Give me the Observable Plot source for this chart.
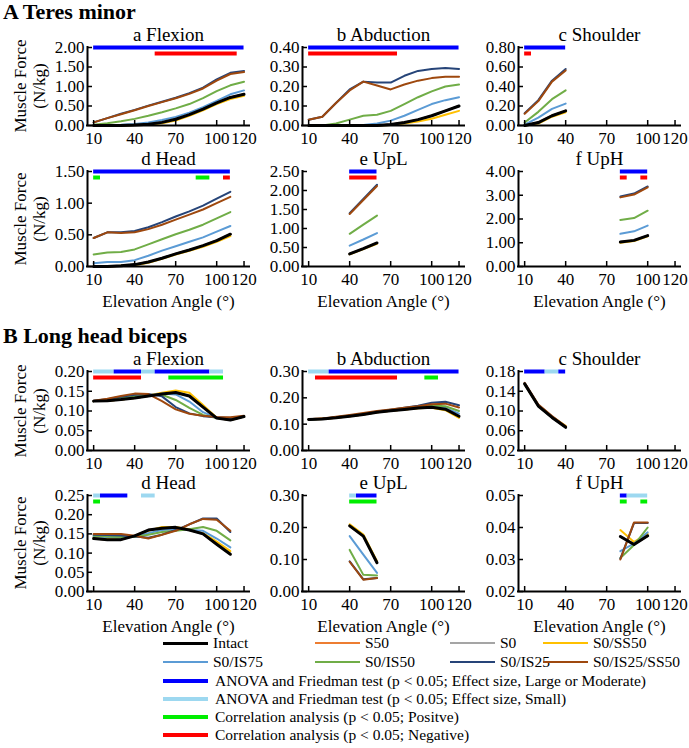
<!DOCTYPE html>
<html>
<head>
<meta charset="utf-8">
<script src="https://cdn.jsdelivr.net/npm/d3@7"></script>
<script src="https://cdn.jsdelivr.net/npm/@observablehq/plot@0.6"></script>
<style>
  body { margin: 0; background: #fff; }
  #fig { position: relative; width: 689px; height: 748px; font-family: "Liberation Serif", serif; color: #000; overflow: hidden; }
  .abs { position: absolute; white-space: nowrap; line-height: 1; }
  .sect { font-weight: bold; font-size: 22px; }
  .ylab { font-size: 17px; text-align: center; line-height: 19px; transform: translate(-50%, -50%) rotate(-90deg); }
  .leg { font-size: 15.5px; transform: translateY(-50%); }
  .legline { position: absolute; }
</style>
</head>
<body>
<div id="fig"></div>
<script>
// Loading scenarios and their line colours
const seriesNames = ["Intact", "S50", "S0", "S0/SS50", "S0/IS75", "S0/IS50", "S0/IS25", "S0/IS25/SS50"];
const seriesColors = ["#000000", "#ED7D31", "#A5A5A5", "#FFC000", "#5B9BD5", "#70AD47", "#264478", "#9E480E"];

// Significance bar kinds
const sigKinds = ["large", "small", "pos", "neg"];
const sigColors = ["#0000FF", "#9DD8F0", "#00EE00", "#FF0000"];
const sigLabels = [
  "ANOVA and Friedman test (p < 0.05; Effect size, Large or Moderate)",
  "ANOVA and Friedman test (p < 0.05; Effect size, Small)",
  "Correlation analysis (p < 0.05; Positve)",
  "Correlation analysis (p < 0.05; Negative)"
];

// Elevation angles (deg) per motion
const angFlexion = [10, 20, 30, 40, 50, 60, 70, 80, 90, 100, 110, 120];
const angAbduction = [10, 20, 30, 40, 50, 60, 70, 80, 90, 100, 110, 120];
const angShoulder = [10, 20, 30, 40];
const angHead = [10, 20, 30, 40, 50, 60, 70, 80, 90, 100, 110];
const angUpL = [40, 50, 60];
const angUpH = [80, 90, 100];
const xTicks = [10, 40, 70, 100, 120];

// A Teres minor: muscle force (N/kg), rows in seriesNames order
const tmFlexion = [
  [0.00, 0.00, 0.00, 0.01, 0.03, 0.08, 0.16, 0.28, 0.42, 0.58, 0.72, 0.80],
  [0.00, 0.00, 0.00, 0.01, 0.03, 0.08, 0.16, 0.28, 0.42, 0.58, 0.72, 0.80],
  [0.00, 0.00, 0.00, 0.01, 0.03, 0.08, 0.16, 0.28, 0.42, 0.58, 0.72, 0.80],
  [0.00, 0.00, 0.00, 0.01, 0.02, 0.06, 0.13, 0.25, 0.39, 0.55, 0.68, 0.76],
  [0.00, 0.01, 0.02, 0.04, 0.08, 0.14, 0.22, 0.33, 0.47, 0.63, 0.80, 0.90],
  [0.02, 0.06, 0.11, 0.17, 0.25, 0.34, 0.44, 0.55, 0.70, 0.88, 1.03, 1.12],
  [0.08, 0.19, 0.30, 0.40, 0.51, 0.61, 0.71, 0.83, 0.97, 1.18, 1.35, 1.40],
  [0.08, 0.19, 0.29, 0.39, 0.50, 0.60, 0.70, 0.81, 0.95, 1.15, 1.32, 1.37]
];
const tmAbduction = [
  [0.000, 0.000, 0.000, 0.000, 0.000, 0.000, 0.005, 0.015, 0.030, 0.050, 0.075, 0.100],
  [0.000, 0.000, 0.000, 0.000, 0.000, 0.000, 0.005, 0.015, 0.030, 0.050, 0.075, 0.100],
  [0.000, 0.000, 0.000, 0.000, 0.000, 0.000, 0.005, 0.015, 0.030, 0.050, 0.075, 0.100],
  [0.000, 0.000, 0.000, 0.000, 0.000, 0.000, 0.003, 0.010, 0.020, 0.035, 0.055, 0.075],
  [0.000, 0.000, 0.000, 0.000, 0.002, 0.010, 0.025, 0.050, 0.080, 0.110, 0.130, 0.145],
  [0.000, 0.000, 0.010, 0.030, 0.050, 0.055, 0.075, 0.110, 0.145, 0.175, 0.200, 0.210],
  [0.030, 0.045, 0.115, 0.185, 0.225, 0.220, 0.220, 0.255, 0.280, 0.290, 0.295, 0.290],
  [0.030, 0.045, 0.115, 0.180, 0.225, 0.205, 0.185, 0.210, 0.230, 0.243, 0.250, 0.250]
];
const tmShoulder = [
  [0.00, 0.03, 0.10, 0.15],
  [0.00, 0.03, 0.10, 0.15],
  [0.00, 0.03, 0.10, 0.15],
  [0.00, 0.02, 0.09, 0.135],
  [0.01, 0.08, 0.17, 0.225],
  [0.03, 0.14, 0.27, 0.36],
  [0.125, 0.26, 0.46, 0.58],
  [0.12, 0.25, 0.45, 0.565]
];
const tmHead = [
  [0.00, 0.00, 0.01, 0.03, 0.07, 0.13, 0.20, 0.26, 0.33, 0.41, 0.51],
  [0.00, 0.00, 0.01, 0.03, 0.07, 0.13, 0.20, 0.26, 0.33, 0.41, 0.51],
  [0.00, 0.00, 0.01, 0.03, 0.07, 0.13, 0.20, 0.26, 0.33, 0.41, 0.51],
  [0.00, 0.00, 0.01, 0.02, 0.06, 0.12, 0.19, 0.25, 0.31, 0.39, 0.48],
  [0.05, 0.07, 0.07, 0.10, 0.17, 0.25, 0.32, 0.39, 0.46, 0.55, 0.64],
  [0.19, 0.22, 0.23, 0.27, 0.35, 0.43, 0.51, 0.58, 0.66, 0.76, 0.86],
  [0.45, 0.54, 0.54, 0.56, 0.62, 0.70, 0.79, 0.87, 0.96, 1.07, 1.18],
  [0.45, 0.54, 0.53, 0.54, 0.59, 0.66, 0.74, 0.82, 0.90, 1.00, 1.10]
];
const tmUpL = [
  [0.33, 0.47, 0.62],
  [0.33, 0.47, 0.62],
  [0.33, 0.47, 0.62],
  [0.32, 0.46, 0.60],
  [0.55, 0.71, 0.88],
  [0.86, 1.10, 1.34],
  [1.40, 1.78, 2.15],
  [1.38, 1.75, 2.12]
];
const tmUpH = [
  [1.03, 1.10, 1.30],
  [1.03, 1.10, 1.30],
  [1.03, 1.10, 1.30],
  [1.00, 1.07, 1.27],
  [1.38, 1.48, 1.72],
  [1.96, 2.04, 2.35],
  [2.95, 3.07, 3.37],
  [2.91, 3.03, 3.33]
];

// B Long head biceps: muscle force (N/kg)
const lhFlexion = [
  [0.125, 0.126, 0.129, 0.133, 0.138, 0.143, 0.147, 0.138, 0.110, 0.082, 0.077, 0.086],
  [0.125, 0.126, 0.129, 0.133, 0.138, 0.143, 0.147, 0.138, 0.110, 0.082, 0.077, 0.086],
  [0.125, 0.126, 0.129, 0.133, 0.138, 0.143, 0.147, 0.138, 0.110, 0.082, 0.077, 0.086],
  [0.125, 0.126, 0.129, 0.133, 0.139, 0.146, 0.152, 0.146, 0.115, 0.083, 0.077, 0.086],
  [0.125, 0.127, 0.131, 0.135, 0.139, 0.144, 0.142, 0.124, 0.097, 0.082, 0.078, 0.086],
  [0.125, 0.128, 0.133, 0.138, 0.140, 0.141, 0.128, 0.108, 0.090, 0.082, 0.080, 0.087],
  [0.126, 0.130, 0.136, 0.141, 0.143, 0.137, 0.110, 0.094, 0.087, 0.084, 0.082, 0.087],
  [0.126, 0.131, 0.138, 0.144, 0.143, 0.125, 0.104, 0.093, 0.088, 0.085, 0.084, 0.088]
];
const lhAbduction = [
  [0.118, 0.120, 0.124, 0.130, 0.137, 0.145, 0.151, 0.156, 0.161, 0.164, 0.157, 0.130],
  [0.118, 0.120, 0.124, 0.130, 0.137, 0.145, 0.151, 0.156, 0.161, 0.164, 0.157, 0.130],
  [0.118, 0.120, 0.124, 0.130, 0.137, 0.145, 0.151, 0.156, 0.161, 0.164, 0.157, 0.130],
  [0.118, 0.120, 0.124, 0.130, 0.137, 0.145, 0.151, 0.156, 0.160, 0.162, 0.153, 0.124],
  [0.118, 0.120, 0.125, 0.131, 0.138, 0.146, 0.152, 0.157, 0.162, 0.167, 0.162, 0.140],
  [0.118, 0.121, 0.125, 0.132, 0.139, 0.147, 0.153, 0.159, 0.164, 0.171, 0.168, 0.150],
  [0.118, 0.121, 0.126, 0.133, 0.140, 0.148, 0.155, 0.162, 0.170, 0.181, 0.185, 0.172],
  [0.119, 0.122, 0.128, 0.135, 0.142, 0.150, 0.156, 0.162, 0.168, 0.176, 0.178, 0.163]
];
const lhShoulder = [
  [0.155, 0.110, 0.087, 0.067],
  [0.155, 0.110, 0.087, 0.067],
  [0.155, 0.110, 0.087, 0.067],
  [0.154, 0.110, 0.088, 0.070],
  [0.155, 0.110, 0.087, 0.067],
  [0.155, 0.111, 0.088, 0.068],
  [0.156, 0.112, 0.089, 0.068],
  [0.157, 0.113, 0.090, 0.069]
];
const lhHead = [
  [0.138, 0.135, 0.135, 0.145, 0.160, 0.165, 0.167, 0.160, 0.150, 0.123, 0.097],
  [0.138, 0.135, 0.135, 0.145, 0.160, 0.165, 0.167, 0.160, 0.150, 0.123, 0.097],
  [0.138, 0.135, 0.135, 0.145, 0.160, 0.165, 0.167, 0.160, 0.150, 0.123, 0.097],
  [0.140, 0.137, 0.137, 0.145, 0.158, 0.168, 0.168, 0.162, 0.152, 0.130, 0.105],
  [0.143, 0.142, 0.140, 0.143, 0.152, 0.160, 0.162, 0.160, 0.158, 0.138, 0.115],
  [0.145, 0.143, 0.142, 0.142, 0.148, 0.155, 0.158, 0.162, 0.168, 0.158, 0.133],
  [0.148, 0.147, 0.146, 0.143, 0.140, 0.148, 0.160, 0.175, 0.190, 0.190, 0.155],
  [0.150, 0.150, 0.150, 0.145, 0.138, 0.148, 0.158, 0.175, 0.189, 0.187, 0.158]
];
const lhUpL = [
  [0.205, 0.173, 0.090],
  [0.205, 0.173, 0.090],
  [0.205, 0.173, 0.090],
  [0.210, 0.178, 0.095],
  [0.173, 0.115, 0.058],
  [0.130, 0.052, 0.050],
  [0.094, 0.038, 0.042],
  [0.093, 0.037, 0.042]
];
const lhUpH = [
  [0.0372, 0.0347, 0.0374],
  [0.0372, 0.0347, 0.0374],
  [0.0372, 0.0347, 0.0374],
  [0.0392, 0.0355, 0.0380],
  [0.0326, 0.0350, 0.0385],
  [0.0305, 0.0345, 0.0400],
  [0.0303, 0.0414, 0.0414],
  [0.0300, 0.0416, 0.0416]
];

// Significant angle ranges: [from, to, kind, bar row]
const tmFlexionSig = [[10, 120, "large", 0], [55, 115, "neg", 1]];
const tmAbductionSig = [[10, 120, "large", 0], [10, 75, "neg", 1]];
const tmShoulderSig = [[10, 40, "large", 0], [10, 15, "neg", 1]];
const tmHeadSig = [[10, 110, "large", 0], [10, 15, "pos", 1], [85, 95, "pos", 1], [105, 110, "neg", 1]];
const tmUpLSig = [[40, 60, "large", 0], [40, 60, "neg", 1]];
const tmUpHSig = [[80, 100, "large", 0], [80, 85, "neg", 1], [95, 100, "neg", 1]];
const lhFlexionSig = [[10, 25, "small", 0], [25, 45, "large", 0], [45, 55, "small", 0], [55, 95, "large", 0], [95, 105, "small", 0], [10, 45, "neg", 1], [65, 105, "pos", 1]];
const lhAbductionSig = [[10, 25, "small", 0], [25, 120, "large", 0], [15, 75, "neg", 1], [95, 105, "pos", 1]];
const lhShoulderSig = [[10, 25, "large", 0], [25, 35, "small", 0], [35, 40, "large", 0]];
const lhHeadSig = [[10, 15, "small", 0], [15, 35, "large", 0], [45, 55, "small", 0], [10, 15, "pos", 1]];
const lhUpLSig = [[40, 45, "small", 0], [45, 60, "large", 0], [40, 60, "pos", 1]];
const lhUpHSig = [[80, 85, "large", 0], [85, 100, "small", 0], [80, 85, "pos", 1], [95, 100, "pos", 1]];

// Y-axis tick labels per panel
const tmFlexionTicks = [0, 0.5, 1.0, 1.5, 2.0];
const tmAbductionTicks = [0, 0.1, 0.2, 0.3, 0.4];
const tmShoulderTicks = [0, 0.2, 0.4, 0.6, 0.8];
const tmHeadTicks = [0, 0.5, 1.0, 1.5];
const tmUpLTicks = [0, 0.5, 1.0, 1.5, 2.0, 2.5];
const tmUpHTicks = [0, 1, 2, 3, 4];
const lhFlexionTicks = [0, 0.05, 0.10, 0.15, 0.20];
const lhAbductionTicks = [0, 0.1, 0.2, 0.3];
const lhShoulderTicks = [0.02, 0.06, 0.10, 0.14, 0.18];
const lhHeadTicks = [0, 0.05, 0.10, 0.15, 0.20, 0.25];
const lhUpLTicks = [0, 0.1, 0.2, 0.3];
const lhUpHTicks = [0.02, 0.03, 0.04, 0.05];

// Page layout (pixels)
const colLeft = [87, 302, 518];
const rowTop = [47, 171, 371, 495];
const rowHeight = [78, 95, 79, 96];
const plotWidth = 162;
const xDomain = [5.5, 124];

const panels = [
  {title: "a Flexion", x: angFlexion, v: tmFlexion, sig: tmFlexionSig, ticks: tmFlexionTicks, col: 0, row: 0},
  {title: "b Abduction", x: angAbduction, v: tmAbduction, sig: tmAbductionSig, ticks: tmAbductionTicks, col: 1, row: 0},
  {title: "c Shoulder", x: angShoulder, v: tmShoulder, sig: tmShoulderSig, ticks: tmShoulderTicks, col: 2, row: 0},
  {title: "d Head", x: angHead, v: tmHead, sig: tmHeadSig, ticks: tmHeadTicks, col: 0, row: 1},
  {title: "e UpL", x: angUpL, v: tmUpL, sig: tmUpLSig, ticks: tmUpLTicks, col: 1, row: 1},
  {title: "f UpH", x: angUpH, v: tmUpH, sig: tmUpHSig, ticks: tmUpHTicks, col: 2, row: 1},
  {title: "a Flexion", x: angFlexion, v: lhFlexion, sig: lhFlexionSig, ticks: lhFlexionTicks, col: 0, row: 2},
  {title: "b Abduction", x: angAbduction, v: lhAbduction, sig: lhAbductionSig, ticks: lhAbductionTicks, col: 1, row: 2},
  {title: "c Shoulder", x: angShoulder, v: lhShoulder, sig: lhShoulderSig, ticks: lhShoulderTicks, col: 2, row: 2},
  {title: "d Head", x: angHead, v: lhHead, sig: lhHeadSig, ticks: lhHeadTicks, col: 0, row: 3},
  {title: "e UpL", x: angUpL, v: lhUpL, sig: lhUpLSig, ticks: lhUpLTicks, col: 1, row: 3},
  {title: "f UpH", x: angUpH, v: lhUpH, sig: lhUpHSig, ticks: lhUpHTicks, col: 2, row: 3}
];

const fig = document.getElementById("fig");
const serifFont = "Liberation Serif, serif";
const drawOrder = [1, 2, 3, 4, 5, 6, 7, 0]; // Intact on top

function drawPanel(p) {
  const ML = 60, MR = 14, MT = 32;
  const withXLabel = p.row === 1 || p.row === 3;
  const MB = withXLabel ? 48 : 28;
  const H = rowHeight[p.row];
  const yLo = p.ticks[0], yHi = p.ticks[p.ticks.length - 1];
  const rows = [];
  p.v.forEach((vals, si) => vals.forEach((val, i) => rows.push({s: si, x: p.x[i], y: val})));
  const sig = p.sig.map(([a, b, kind, r]) => ({a, b, color: sigColors[sigKinds.indexOf(kind)], r}));

  const marks = [];
  for (const si of drawOrder) {
    marks.push(Plot.line(rows.filter(d => d.s === si), {
      x: "x", y: "y", stroke: seriesColors[si], strokeWidth: si === 0 ? 3 : 2, strokeLinejoin: "round"
    }));
  }
  marks.push(
    Plot.ruleY(sig.filter(d => d.r === 0), {x1: "a", x2: "b", y: () => yHi, stroke: "color", strokeWidth: 4}),
    Plot.ruleY(sig.filter(d => d.r === 1), {x1: "a", x2: "b", y: () => yHi, dy: 6, stroke: "color", strokeWidth: 4}),
    Plot.ruleX([xDomain[0]], {stroke: "black", strokeWidth: 2, strokeLinecap: "square"}),
    Plot.ruleY([yLo], {stroke: "black", strokeWidth: 2, strokeLinecap: "square"}),
    Plot.tickX(xTicks, {x: d => d, insetTop: H - 5, stroke: "black", strokeWidth: 1.5}),
    Plot.tickY(p.ticks, {y: d => d, insetRight: plotWidth - 5, stroke: "black", strokeWidth: 1.5}),
    Plot.axisX(xTicks, {tickSize: 0, tickPadding: 6, tickFormat: d => String(d), label: null, fontSize: 17, fontFamily: serifFont}),
    Plot.axisY(p.ticks, {tickSize: 0, tickPadding: 3, tickFormat: d3.format(".2f"), label: null, fontSize: 17, fontFamily: serifFont}),
    Plot.text([p.title], {frameAnchor: "top", dy: -13, fontSize: 19, fontFamily: serifFont, lineAnchor: "middle", text: d => d})
  );
  if (withXLabel) {
    marks.push(Plot.text(["Elevation Angle (°)"], {frameAnchor: "bottom", dy: 35, fontSize: 17, fontFamily: serifFont, lineAnchor: "middle", text: d => d}));
  }

  const svg = Plot.plot({
    width: ML + plotWidth + MR,
    height: MT + H + MB,
    marginLeft: ML, marginRight: MR, marginTop: MT, marginBottom: MB,
    x: {domain: xDomain},
    y: {domain: [yLo, yHi]},
    color: {type: "identity"},
    style: {background: "none", overflow: "visible", color: "#000", fontFamily: serifFont},
    marks
  });
  svg.setAttribute("font-family", serifFont);
  svg.style.position = "absolute";
  svg.style.left = (colLeft[p.col] - ML) + "px";
  svg.style.top = (rowTop[p.row] - MT) + "px";
  fig.appendChild(svg);
}
panels.forEach(drawPanel);

function addText(text, x, y, cls) {
  const el = document.createElement("div");
  el.className = "abs " + cls;
  el.textContent = text;
  el.style.left = x + "px";
  el.style.top = y + "px";
  fig.appendChild(el);
  return el;
}

// Section headings
addText("A Teres minor", 3, 1, "sect");
addText("B Long head biceps", 3, 325, "sect");

// Y-axis titles for the first column
rowTop.forEach((t, r) => {
  const el = document.createElement("div");
  el.className = "abs ylab";
  el.innerHTML = "Muscle Force<br>(N/kg)";
  el.style.left = "30px";
  el.style.top = (t + rowHeight[r] / 2) + "px";
  fig.appendChild(el);
});

// Legend
function legendLine(x, y, len, color, width) {
  const el = document.createElement("div");
  el.className = "legline";
  el.style.left = x + "px";
  el.style.top = (y - width / 2) + "px";
  el.style.width = len + "px";
  el.style.height = width + "px";
  el.style.background = color;
  fig.appendChild(el);
}
const legCols = [163, 315, 450, 543];
const legRows = [643, 662];
seriesNames.forEach((name, i) => {
  const r = Math.floor(i / 4), c = i % 4;
  legendLine(legCols[c], legRows[r], 45, seriesColors[i], i === 0 ? 3 : 2);
  addText(name, legCols[c] + 50, legRows[r], "leg");
});
const sigRows = [681, 699, 717, 735];
sigLabels.forEach((label, i) => {
  legendLine(163, sigRows[i], 45, sigColors[i], 4);
  addText(label, 215, sigRows[i], "leg");
});
</script>
</body>
</html>
